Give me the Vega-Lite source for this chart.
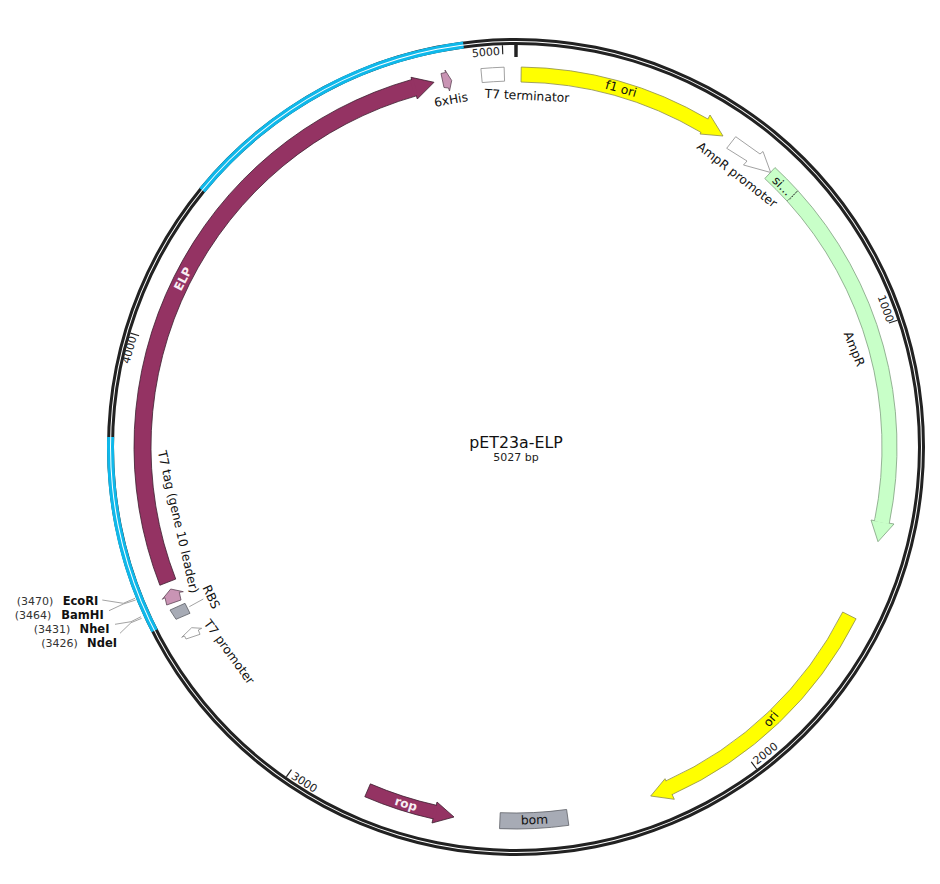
{
  "$schema": "https://vega.github.io/schema/vega-lite/v6.json",
  "width": 940,
  "height": 884,
  "padding": 0,
  "autosize": {"type": "fit", "contains": "padding"},
  "background": "white",
  "config": {"view": {"stroke": null}, "text": {"font": "DejaVu Sans"}},
  "datasets": {
    "backbone": [
      {"part": "backbone", "start": 0, "end": 5027, "r1": 402, "r2": 409},
      {"part": "insert", "start": 4319, "end": 4923, "r1": 402, "r2": 409},
      {"part": "insert", "start": 3394, "end": 3790, "r1": 402, "r2": 409},
      {"part": "gap", "start": 0, "end": 5027, "r1": 405, "r2": 406},
      {"part": "backbone", "start": -3.5, "end": 3.5, "r1": 390, "r2": 402},
      {"part": "backbone", "start": 998.8, "end": 1001.2, "r1": 393, "r2": 402},
      {"part": "backbone", "start": 1998.8, "end": 2001.2, "r1": 393, "r2": 402},
      {"part": "backbone", "start": 2998.8, "end": 3001.2, "r1": 393, "r2": 402},
      {"part": "backbone", "start": 3998.8, "end": 4001.2, "r1": 393, "r2": 402},
      {"part": "backbone", "start": 4998.8, "end": 5001.2, "r1": 393, "r2": 402}
    ],
    "features": [
      {"part": "f1 ori", "start": 11, "end": 425, "r1": 365, "r2": 380},
      {"part": "T7 terminator", "start": 4953, "end": 5002, "r1": 366, "r2": 380},
      {"part": "signal", "start": 598, "end": 667, "r1": 366, "r2": 381},
      {"part": "AmpR", "start": 667, "end": 1417, "r1": 366, "r2": 381},
      {"part": "ori", "start": 1631, "end": 2176, "r1": 366, "r2": 381},
      {"part": "bom", "start": 2402.5, "end": 2548, "r1": 366, "r2": 382},
      {"part": "rop", "start": 2688, "end": 2840, "r1": 367, "r2": 381},
      {"part": "ELP", "start": 3474, "end": 4806, "r1": 365, "r2": 382}
    ],
    "joints": [
      {"part": "f1 ori", "start": 421, "end": 428, "r1": 365.5, "r2": 379.5},
      {"part": "AmpR", "start": 1413, "end": 1420, "r1": 366.5, "r2": 380.5},
      {"part": "ori", "start": 2172, "end": 2179, "r1": 366.5, "r2": 380.5},
      {"part": "rop", "start": 2685, "end": 2692, "r1": 367.5, "r2": 380.5},
      {"part": "ELP", "start": 4802, "end": 4809, "r1": 365.5, "r2": 381.5}
    ],
    "shapes": [
      {"part": "f1 ori", "i": 0, "x": 194, "y": 332},
      {"part": "f1 ori", "i": 1, "x": 207, "y": 311},
      {"part": "f1 ori", "i": 2, "x": 184, "y": 313},
      {"part": "f1 ori", "i": 3, "x": 194, "y": 332},
      {"part": "AmpR", "i": 0, "x": 378, "y": -77},
      {"part": "AmpR", "i": 1, "x": 362, "y": -94.7},
      {"part": "AmpR", "i": 2, "x": 355, "y": -73},
      {"part": "AmpR", "i": 3, "x": 378, "y": -77},
      {"part": "ori", "i": 0, "x": 158.3, "y": -352.3},
      {"part": "ori", "i": 1, "x": 134.7, "y": -349},
      {"part": "ori", "i": 2, "x": 149, "y": -331.7},
      {"part": "ori", "i": 3, "x": 158.3, "y": -352.3},
      {"part": "rop", "i": 0, "x": -79, "y": -355},
      {"part": "rop", "i": 1, "x": -62, "y": -370},
      {"part": "rop", "i": 2, "x": -84, "y": -376},
      {"part": "rop", "i": 3, "x": -79, "y": -355},
      {"part": "ELP", "i": 0, "x": -105, "y": 369.7},
      {"part": "ELP", "i": 1, "x": -82, "y": 364.7},
      {"part": "ELP", "i": 2, "x": -98.7, "y": 348},
      {"part": "ELP", "i": 3, "x": -105, "y": 369.7},
      {"part": "AmpR promoter", "i": 0, "x": 210.7, "y": 298.7},
      {"part": "AmpR promoter", "i": 1, "x": 219.7, "y": 310.3},
      {"part": "AmpR promoter", "i": 2, "x": 244, "y": 293},
      {"part": "AmpR promoter", "i": 3, "x": 247, "y": 295.5},
      {"part": "AmpR promoter", "i": 4, "x": 254.7, "y": 274.5},
      {"part": "AmpR promoter", "i": 5, "x": 227.5, "y": 282},
      {"part": "AmpR promoter", "i": 6, "x": 231, "y": 286},
      {"part": "AmpR promoter", "i": 7, "x": 210.7, "y": 298.7},
      {"part": "6xHis", "i": 0, "x": -75, "y": 373.5},
      {"part": "6xHis", "i": 1, "x": -70.5, "y": 374.5},
      {"part": "6xHis", "i": 2, "x": -71, "y": 377},
      {"part": "6xHis", "i": 3, "x": -64.3, "y": 366.5},
      {"part": "6xHis", "i": 4, "x": -66.5, "y": 356},
      {"part": "6xHis", "i": 5, "x": -67.5, "y": 359},
      {"part": "6xHis", "i": 6, "x": -72, "y": 359.5},
      {"part": "6xHis", "i": 7, "x": -75, "y": 373.5},
      {"part": "T7 tag", "i": 0, "x": -353.7, "y": -152.3},
      {"part": "T7 tag", "i": 1, "x": -345.3, "y": -142},
      {"part": "T7 tag", "i": 2, "x": -332.7, "y": -144.7},
      {"part": "T7 tag", "i": 3, "x": -336.7, "y": -145.3},
      {"part": "T7 tag", "i": 4, "x": -335, "y": -153},
      {"part": "T7 tag", "i": 5, "x": -349.3, "y": -158},
      {"part": "T7 tag", "i": 6, "x": -351, "y": -150.7},
      {"part": "T7 tag", "i": 7, "x": -353.7, "y": -152.3},
      {"part": "RBS", "i": 0, "x": -346, "y": -163},
      {"part": "RBS", "i": 1, "x": -331, "y": -156.3},
      {"part": "RBS", "i": 2, "x": -326, "y": -166.3},
      {"part": "RBS", "i": 3, "x": -340, "y": -172.3},
      {"part": "RBS", "i": 4, "x": -346, "y": -163},
      {"part": "T7 promoter", "i": 0, "x": -334.3, "y": -190.3},
      {"part": "T7 promoter", "i": 1, "x": -324.3, "y": -180.7},
      {"part": "T7 promoter", "i": 2, "x": -314.3, "y": -181.3},
      {"part": "T7 promoter", "i": 3, "x": -317.7, "y": -183},
      {"part": "T7 promoter", "i": 4, "x": -316, "y": -187.3},
      {"part": "T7 promoter", "i": 5, "x": -330, "y": -192},
      {"part": "T7 promoter", "i": 6, "x": -331.5, "y": -189},
      {"part": "T7 promoter", "i": 7, "x": -334.3, "y": -190.3}
    ],
    "leaders": [
      {"site": "EcoRI", "i": 0, "x": -413.7, "y": -153},
      {"site": "EcoRI", "i": 1, "x": -392.7, "y": -156.3},
      {"site": "EcoRI", "i": 2, "x": -381, "y": -151.3},
      {"site": "BamHI", "i": 0, "x": -407, "y": -163.7},
      {"site": "BamHI", "i": 1, "x": -392.7, "y": -157},
      {"site": "BamHI", "i": 2, "x": -380.3, "y": -153},
      {"site": "NheI", "i": 0, "x": -401, "y": -177.3},
      {"site": "NheI", "i": 1, "x": -385, "y": -174.7},
      {"site": "NheI", "i": 2, "x": -375, "y": -169.7},
      {"site": "NdeI", "i": 0, "x": -396, "y": -186.3},
      {"site": "NdeI", "i": 1, "x": -385, "y": -175.7},
      {"site": "NdeI", "i": 2, "x": -374.3, "y": -171.3},
      {"site": "RBS", "i": 0, "x": -326.7, "y": -159.7},
      {"site": "RBS", "i": 1, "x": -312.7, "y": -152}
    ],
    "splitLine": [
      {"i": 0, "x": 274, "y": 247.7},
      {"i": 1, "x": 281, "y": 256}
    ],
    "labels": [
      {"label": "f1 ori", "x": 105, "y": 358, "angle": 16},
      {"label": "T7 terminator", "x": 11, "y": 351, "angle": 3},
      {"label": "6xHis", "x": -65, "y": 347, "angle": -10},
      {"label": "AmpR promoter", "x": 221, "y": 272, "angle": 38},
      {"label": "si...", "x": 266, "y": 261, "angle": 45},
      {"label": "AmpR", "x": 338, "y": 98, "angle": 68},
      {"label": "T7 tag (gene 10 leader)", "x": -338, "y": -75, "angle": 77},
      {"label": "RBS", "x": -305, "y": -150, "angle": 65},
      {"label": "T7 promoter", "x": -287, "y": -205, "angle": 54},
      {"label": "ori", "x": 255, "y": -272, "angle": -50},
      {"label": "bom", "x": 18.5, "y": -373, "angle": -2}
    ],
    "whiteLabels": [
      {"label": "ELP", "x": -333, "y": 168, "angle": -63},
      {"label": "rop", "x": -110, "y": -357, "angle": 17}
    ],
    "tickLabels": [
      {"label": "5000", "x": -30, "y": 394, "angle": -5},
      {"label": "1000", "x": 369, "y": 138, "angle": 70},
      {"label": "2000", "x": 250, "y": -307, "angle": -38},
      {"label": "3000", "x": -212, "y": -336, "angle": 33},
      {"label": "4000", "x": -386, "y": 97, "angle": -75}
    ],
    "positions": [
      {"label": "(3470)", "x": -481, "y": -154.7},
      {"label": "(3464)", "x": -483, "y": -168.7},
      {"label": "(3431)", "x": -464, "y": -183},
      {"label": "(3426)", "x": -456.5, "y": -197}
    ],
    "sites": [
      {"label": "EcoRI", "x": -435.5, "y": -154.7},
      {"label": "BamHI", "x": -433.5, "y": -168.7},
      {"label": "NheI", "x": -421.5, "y": -183},
      {"label": "NdeI", "x": -414, "y": -197}
    ]
  },
  "layer": [
    {
      "data": {"name": "backbone"},
      "mark": {"type": "arc"},
      "encoding": {
        "x": {"datum": 0, "type": "quantitative", "axis": null, "scale": {"domain": [-516, 424], "nice": false, "zero": false}},
        "y": {"datum": 0, "type": "quantitative", "axis": null, "scale": {"domain": [-437, 447], "nice": false, "zero": false}},
        "theta": {"field": "start", "type": "quantitative", "scale": {"domain": [0, 5027], "range": [0, 6.283185307]}},
        "theta2": {"field": "end"},
        "radius": {"field": "r1", "type": "quantitative", "scale": {"type": "linear", "domain": [0, 450], "range": [0, 450]}},
        "radius2": {"field": "r2"},
        "fill": {"field": "part", "type": "nominal", "legend": null,
          "scale": {
            "domain": ["backbone", "insert", "gap", "f1 ori", "ori", "AmpR", "signal", "ELP", "rop", "6xHis", "T7 tag", "bom", "RBS", "T7 terminator", "AmpR promoter", "T7 promoter"],
            "range": ["#222222", "#0fb8ea", "#ffffff", "#ffff00", "#ffff00", "#c8ffc8", "#c8ffc8", "#943363", "#943363", "#c994b4", "#c994b4", "#a7abb5", "#a7abb5", "#ffffff", "#ffffff", "#ffffff"]}}
      }
    },
    {
      "data": {"name": "features"},
      "mark": {"type": "arc", "strokeWidth": 0.8},
      "encoding": {
        "x": {"datum": 0, "type": "quantitative", "axis": null},
        "y": {"datum": 0, "type": "quantitative", "axis": null},
        "theta": {"field": "start", "type": "quantitative"},
        "theta2": {"field": "end"},
        "radius": {"field": "r1", "type": "quantitative"},
        "radius2": {"field": "r2"},
        "fill": {"field": "part", "type": "nominal", "legend": null},
        "stroke": {"field": "part", "type": "nominal", "legend": null,
          "scale": {
            "domain": ["f1 ori", "ori", "AmpR", "signal", "ELP", "rop", "6xHis", "T7 tag", "bom", "RBS", "T7 terminator", "AmpR promoter", "T7 promoter"],
            "range": ["#8c8c50", "#8c8c50", "#7f9f7f", "#7f9f7f", "#3c2030", "#3c2030", "#5f4557", "#5f4557", "#5d6066", "#5d6066", "#8a8a8a", "#8a8a8a", "#8a8a8a"]}}
      }
    },
    {
      "data": {"name": "shapes"},
      "mark": {"type": "line", "strokeWidth": 0.8},
      "encoding": {
        "x": {"field": "x", "type": "quantitative", "axis": null},
        "y": {"field": "y", "type": "quantitative", "axis": null},
        "order": {"field": "i", "type": "quantitative"},
        "detail": {"field": "part"},
        "stroke": {"field": "part", "type": "nominal", "legend": null},
        "fill": {"field": "part", "type": "nominal", "legend": null}
      }
    },
    {
      "data": {"name": "joints"},
      "mark": {"type": "arc"},
      "encoding": {
        "x": {"datum": 0, "type": "quantitative", "axis": null},
        "y": {"datum": 0, "type": "quantitative", "axis": null},
        "theta": {"field": "start", "type": "quantitative"},
        "theta2": {"field": "end"},
        "radius": {"field": "r1", "type": "quantitative"},
        "radius2": {"field": "r2"},
        "fill": {"field": "part", "type": "nominal", "legend": null}
      }
    },
    {
      "data": {"name": "leaders"},
      "mark": {"type": "line", "stroke": "#8c8c8c", "strokeWidth": 0.8},
      "encoding": {
        "x": {"field": "x", "type": "quantitative", "axis": null},
        "y": {"field": "y", "type": "quantitative", "axis": null},
        "order": {"field": "i", "type": "quantitative"},
        "detail": {"field": "site"}
      }
    },
    {
      "data": {"name": "splitLine"},
      "mark": {"type": "line", "stroke": "#111111", "strokeWidth": 1, "strokeDash": [1, 2]},
      "encoding": {
        "x": {"field": "x", "type": "quantitative", "axis": null},
        "y": {"field": "y", "type": "quantitative", "axis": null},
        "order": {"field": "i", "type": "quantitative"}
      }
    },
    {
      "data": {"name": "labels"},
      "mark": {"type": "text", "fontSize": 12.3, "fill": "#111111", "baseline": "middle"},
      "encoding": {
        "x": {"field": "x", "type": "quantitative", "axis": null},
        "y": {"field": "y", "type": "quantitative", "axis": null},
        "text": {"field": "label"},
        "angle": {"field": "angle", "type": "quantitative", "scale": null}
      }
    },
    {
      "data": {"name": "whiteLabels"},
      "mark": {"type": "text", "fontSize": 12, "fontWeight": "bold", "fill": "#f8eef3", "baseline": "middle"},
      "encoding": {
        "x": {"field": "x", "type": "quantitative", "axis": null},
        "y": {"field": "y", "type": "quantitative", "axis": null},
        "text": {"field": "label"},
        "angle": {"field": "angle", "type": "quantitative", "scale": null}
      }
    },
    {
      "data": {"name": "tickLabels"},
      "mark": {"type": "text", "fontSize": 11, "fill": "#222222", "baseline": "middle"},
      "encoding": {
        "x": {"field": "x", "type": "quantitative", "axis": null},
        "y": {"field": "y", "type": "quantitative", "axis": null},
        "text": {"field": "label"},
        "angle": {"field": "angle", "type": "quantitative", "scale": null}
      }
    },
    {
      "data": {"name": "positions"},
      "mark": {"type": "text", "fontSize": 11, "fill": "#333333", "baseline": "middle"},
      "encoding": {
        "x": {"field": "x", "type": "quantitative", "axis": null},
        "y": {"field": "y", "type": "quantitative", "axis": null},
        "text": {"field": "label"}
      }
    },
    {
      "data": {"name": "sites"},
      "mark": {"type": "text", "fontSize": 11.5, "fontWeight": "bold", "fill": "#111111", "baseline": "middle"},
      "encoding": {
        "x": {"field": "x", "type": "quantitative", "axis": null},
        "y": {"field": "y", "type": "quantitative", "axis": null},
        "text": {"field": "label"}
      }
    },
    {
      "data": {"values": [{"label": "pET23a-ELP", "x": 0, "y": 4}]},
      "mark": {"type": "text", "fontSize": 15.8, "fill": "#111111", "baseline": "middle"},
      "encoding": {
        "x": {"field": "x", "type": "quantitative", "axis": null},
        "y": {"field": "y", "type": "quantitative", "axis": null},
        "text": {"field": "label"}
      }
    },
    {
      "data": {"values": [{"label": "5027 bp", "x": 0, "y": -11}]},
      "mark": {"type": "text", "fontSize": 11, "fill": "#222222", "baseline": "middle"},
      "encoding": {
        "x": {"field": "x", "type": "quantitative", "axis": null},
        "y": {"field": "y", "type": "quantitative", "axis": null},
        "text": {"field": "label"}
      }
    }
  ]
}
